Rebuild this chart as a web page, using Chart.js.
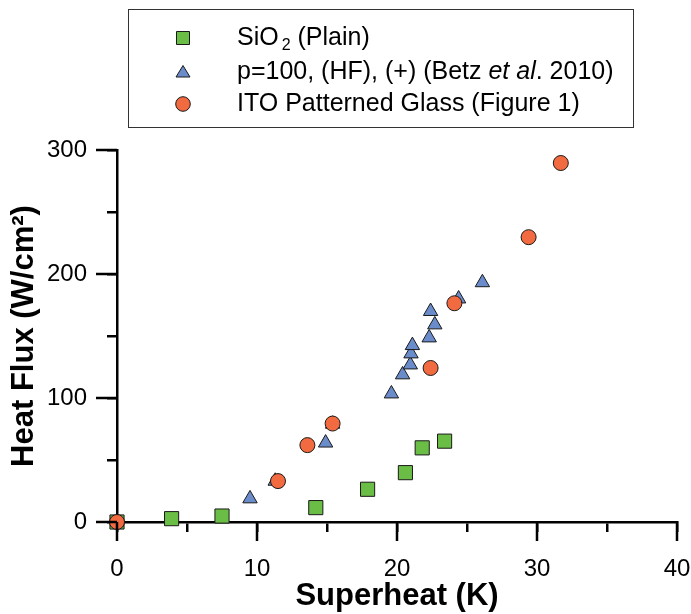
<!DOCTYPE html>
<html>
<head>
<meta charset="utf-8">
<script src="https://cdn.jsdelivr.net/npm/chart.js"></script>
<style>
  body { margin: 0; background: #fff; }
  #wrap { width: 691px; height: 614px; }
</style>
</head>
<body>
<div id="wrap"><canvas id="myChart"></canvas></div>
<script>
// SiO2 plain surface
const sio2X = [0, 3.9, 7.5, 14.2, 17.9, 20.6, 21.8, 23.4];
const sio2Y = [0, 2.7, 4.8, 11.6, 26.4, 39.8, 59.8, 65.2];

// p=100 (HF) (+), Betz et al. 2010
const betzX = [9.5, 11.3, 14.9, 15.4, 19.6, 20.4, 20.95, 21.0, 21.1, 22.3, 22.7, 22.4, 24.4, 26.1];
const betzY = [18.8, 33, 63.8, 79, 103.4, 118.8, 126.8, 135.7, 142.4, 148.6, 159.1, 169.9, 180, 193.1];

// ITO patterned glass
const itoX = [0, 11.5, 13.6, 15.4, 22.4, 24.1, 29.4, 31.7];
const itoY = [0, 33, 62, 79.4, 124.2, 176.4, 229.7, 289.5];

const xTicks = [0, 10, 20, 30, 40];
const yTicks = [0, 100, 200, 300];

const green = '#6abd45';
const blue = '#6b8ccb';
const orange = '#f26a3f';
const edge = '#1a1a1a';

Chart.defaults.font.family = '"Liberation Sans", Arial, sans-serif';
Chart.defaults.color = '#000';

const toPoints = (xs, ys) => xs.map((x, i) => ({ x: x, y: ys[i] }));

// longer ticks at the labelled values
const majorTicks = {
  id: 'majorTicks',
  afterDraw(chart) {
    const ctx = chart.ctx;
    const xs = chart.scales.x, ys = chart.scales.y;
    const area = chart.chartArea;
    ctx.save();
    ctx.strokeStyle = '#000';
    ctx.lineWidth = 2.5;
    ctx.beginPath();
    xTicks.forEach(v => {
      const px = xs.getPixelForValue(v);
      ctx.moveTo(px, area.bottom);
      ctx.lineTo(px, area.bottom + 19);
    });
    yTicks.forEach(v => {
      const py = ys.getPixelForValue(v);
      ctx.moveTo(area.left, py);
      ctx.lineTo(area.left - 21, py);
    });
    ctx.stroke();
    ctx.restore();
  }
};

function marker(ctx, style, x, y, fill) {
  ctx.beginPath();
  if (style === 'rect') {
    ctx.rect(x - 6.5, y - 6.5, 13, 13);
  } else if (style === 'triangle') {
    ctx.moveTo(x, y - 6.5);
    ctx.lineTo(x + 7, y + 5);
    ctx.lineTo(x - 7, y + 5);
    ctx.closePath();
  } else {
    ctx.arc(x, y, 7.3, 0, Math.PI * 2);
  }
  ctx.fillStyle = fill;
  ctx.fill();
  ctx.strokeStyle = edge;
  ctx.lineWidth = 1;
  ctx.stroke();
}

// boxed legend with subscript and italic text
const legendBox = {
  id: 'legendBox',
  afterDraw(chart) {
    const ctx = chart.ctx;
    const fam = '"Liberation Sans", Arial, sans-serif';
    const rows = [
      { style: 'rect', color: green, y: 38, parts: [
        { t: 'SiO', f: '25px ' + fam, dy: 0 },
        { t: '2', f: '16px ' + fam, dy: 8, gap: 3 },
        { t: ' (Plain)', f: '25px ' + fam, dy: 0 }
      ] },
      { style: 'triangle', color: blue, y: 72, parts: [
        { t: 'p=100, (HF), (+) (Betz ', f: '25px ' + fam, dy: 0 },
        { t: 'et al', f: 'italic 25px ' + fam, dy: 0 },
        { t: '. 2010)', f: '25px ' + fam, dy: 0 }
      ] },
      { style: 'circle', color: orange, y: 104, parts: [
        { t: 'ITO Patterned Glass (Figure 1)', f: '25px ' + fam, dy: 0 }
      ] }
    ];
    ctx.save();
    ctx.fillStyle = '#fff';
    ctx.fillRect(128, 9, 506, 119);
    ctx.strokeStyle = '#333';
    ctx.lineWidth = 1;
    ctx.strokeRect(128.5, 9.5, 505, 118);
    rows.forEach(r => {
      marker(ctx, r.style, 183, r.y, r.color);
      let x = 237;
      ctx.textBaseline = 'middle';
      ctx.fillStyle = '#000';
      r.parts.forEach(p => {
        x += p.gap || 0;
        ctx.font = p.f;
        ctx.fillText(p.t, x, r.y + p.dy);
        x += ctx.measureText(p.t).width;
      });
    });
    ctx.restore();
  }
};

const ctx = document.getElementById('myChart').getContext('2d');

const myChart = new Chart(ctx, {
  type: 'scatter',
  data: {
    datasets: [
      {
        label: 'SiO2 (Plain)',
        data: toPoints(sio2X, sio2Y),
        pointStyle: 'rect',
        pointRadius: 10,
        pointHoverRadius: 10,
        backgroundColor: green,
        borderColor: edge,
        borderWidth: 1,
        clip: false,
        order: 2
      },
      {
        label: 'p=100, (HF), (+) (Betz et al. 2010)',
        data: toPoints(betzX, betzY),
        pointStyle: 'triangle',
        pointRadius: 8.3,
        pointHoverRadius: 8.3,
        backgroundColor: blue,
        borderColor: edge,
        borderWidth: 1,
        clip: false,
        order: 1
      },
      {
        label: 'ITO Patterned Glass (Figure 1)',
        data: toPoints(itoX, itoY),
        pointStyle: 'circle',
        pointRadius: 7.5,
        pointHoverRadius: 7.5,
        backgroundColor: orange,
        borderColor: edge,
        borderWidth: 1,
        clip: false,
        order: 0
      }
    ]
  },
  options: {
    responsive: true,
    maintainAspectRatio: false,
    animation: false,
    layout: { padding: { top: 150, left: 7, right: 0, bottom: 0 } },
    scales: {
      x: {
        type: 'linear',
        min: 0,
        max: 40,
        ticks: {
          stepSize: 5,
          autoSkip: false,
          maxRotation: 0,
          padding: 23,
          color: '#000',
          font: { size: 24 },
          callback: v => (v % 10 === 0 ? v : '')
        },
        grid: { drawOnChartArea: false, drawTicks: true, tickLength: 10, color: '#000', lineWidth: 2.5 },
        border: { color: '#000', width: 2.5 },
        title: {
          display: true,
          text: 'Superheat (K)',
          color: '#000',
          font: { size: 31, weight: 'bold', lineHeight: 1.1 },
          padding: 0
        },
        afterFit: s => { s.height = 92; s.paddingRight = 14; s.paddingLeft = 0; }
      },
      y: {
        type: 'linear',
        min: 0,
        max: 300,
        ticks: {
          stepSize: 50,
          autoSkip: false,
          padding: 20,
          color: '#000',
          font: { size: 24 },
          callback: v => (v % 100 === 0 ? v : '')
        },
        grid: { drawOnChartArea: false, drawTicks: true, tickLength: 10, color: '#000', lineWidth: 2.5 },
        border: { color: '#000', width: 2.5 },
        title: {
          display: true,
          text: 'Heat Flux (W/cm²)',
          color: '#000',
          font: { size: 31, weight: 'bold', lineHeight: 1.1 },
          padding: 0
        },
        afterFit: s => { s.width = 110; s.paddingTop = 0; s.paddingBottom = 0; }
      }
    },
    plugins: {
      legend: { display: false },
      tooltip: { enabled: false }
    }
  },
  plugins: [majorTicks, legendBox]
});
</script>
</body>
</html>
